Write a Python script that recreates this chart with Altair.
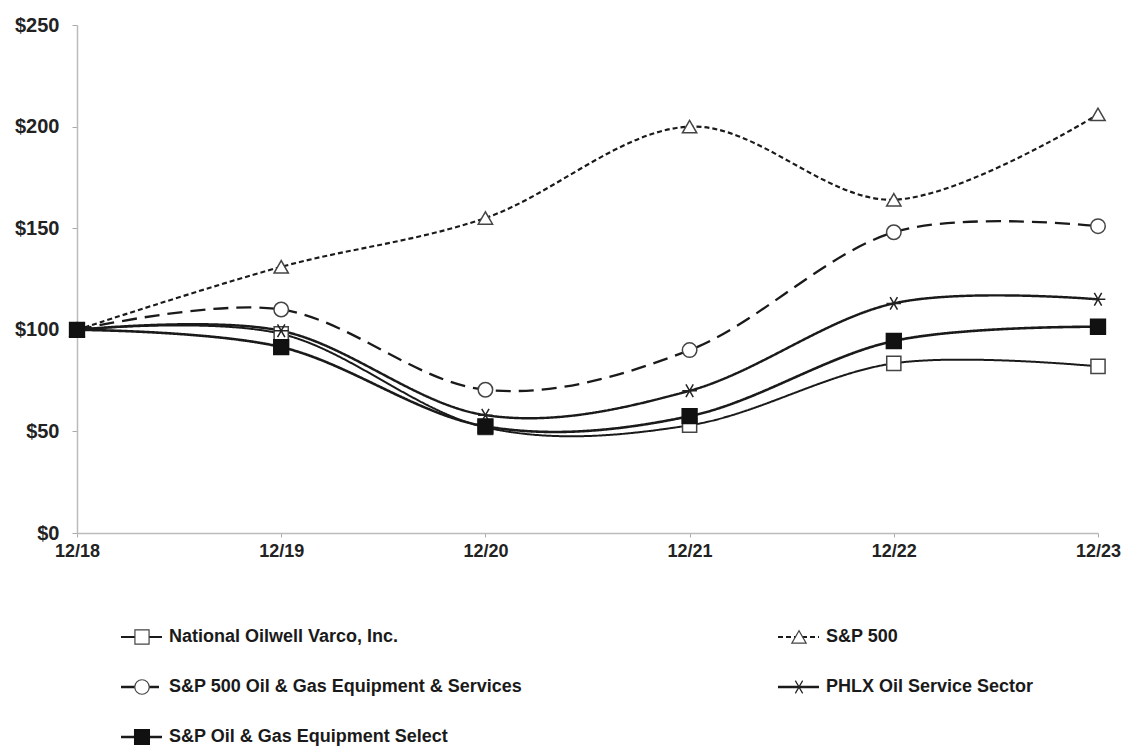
import altair as alt
import pandas as pd

periods = ["12/18", "12/19", "12/20", "12/21", "12/22", "12/23"]
series_names = [
    "National Oilwell Varco, Inc.",
    "S&P 500",
    "S&P 500 Oil & Gas Equipment & Services",
    "PHLX Oil Service Sector",
    "S&P Oil & Gas Equipment Select",
]
nov = [100, 98, 52, 53, 83.5, 82]
sp500 = [100, 131, 155, 200, 164, 206]
sp_oges = [100, 110, 70.5, 90, 148, 151]
phlx = [100, 99.5, 58, 70, 113, 115]
sp_select = [100, 91.5, 52.5, 57.5, 94.5, 101.5]
values = [nov, sp500, sp_oges, phlx, sp_select]

# legend layout: column and row of each series
legend_col = [0, 1, 0, 1, 0]
legend_row = [0, 0, 1, 1, 2]

asterisk = "M-1,0L1,0M-0.5,-0.866L0.5,0.866M-0.5,0.866L0.5,-0.866"
dashes = [[1, 0], [5, 3], [15, 8], [1, 0], [1, 0]]
widths = [2.0, 2.6, 2.6, 2.2, 2.4]
shapes = ["square", "triangle-up", "circle", asterisk, "square"]
fills = ["white", "white", "white", "white", "#111111"]
strokes = ["#444444", "#444444", "#444444", "#222222", "#111111"]
sizes = [200, 220, 260, 230, 250]
legend_sizes = [55, 55, 60, 60, 60]

rows = []
for name, vals in zip(series_names, values):
    for p, v in zip(periods, vals):
        rows.append({"period": p, "value": v, "series": name})
df = pd.DataFrame(rows)

leg = pd.DataFrame({"series": series_names, "col": legend_col, "row": legend_row})

FONT = "Liberation Sans"
dash_scale = alt.Scale(domain=series_names, range=dashes)
legend_dash_scale = alt.Scale(domain=series_names, range=[[1, 0], [4, 3], [13, 5], [1, 0], [1, 0]])
width_scale = alt.Scale(domain=series_names, range=widths)
shape_scale = alt.Scale(domain=series_names, range=shapes)
fill_scale = alt.Scale(domain=series_names, range=fills)
stroke_scale = alt.Scale(domain=series_names, range=strokes)
size_scale = alt.Scale(domain=series_names, range=sizes)
legend_size_scale = alt.Scale(domain=series_names, range=legend_sizes)
y_scale = alt.Scale(domain=[0, 250], nice=False)
x_scale = alt.Scale(type="point", padding=0)

x_enc = alt.X(
    "period:O",
    sort=periods,
    scale=x_scale,
    axis=alt.Axis(
        title=None, labelAngle=0, labelFont=FONT, labelFontSize=18,
        labelFontWeight="bold", labelColor="#222222", labelPadding=5,
        domainColor="#bbbbbb", tickColor="#aaaaaa", tickSize=4, domainWidth=1.5,
    ),
)
y_enc = alt.Y(
    "value:Q",
    scale=y_scale,
    axis=alt.Axis(
        title=None, values=[0, 50, 100, 150, 200, 250], labelExpr="'$' + datum.value",
        labelFont=FONT, labelFontSize=20, labelFontWeight="bold", labelColor="#222222",
        grid=False, domainColor="#bbbbbb", tickColor="#aaaaaa", tickSize=5,
        labelPadding=13, domainWidth=1.5,
    ),
)

lines = alt.Chart(df).mark_line(interpolate="cardinal", color="#1a1a1a").encode(
    x=x_enc,
    y=y_enc,
    detail="series:N",
    strokeDash=alt.StrokeDash("series:N", scale=dash_scale, legend=None),
    strokeWidth=alt.StrokeWidth("series:N", scale=width_scale, legend=None),
)
points = alt.Chart(df).mark_point(filled=False, strokeWidth=1.5, opacity=1).encode(
    x=alt.X("period:O", sort=periods, scale=x_scale),
    y=alt.Y("value:Q", scale=y_scale),
    shape=alt.Shape("series:N", scale=shape_scale, legend=None),
    fill=alt.Fill("series:N", scale=fill_scale, legend=None),
    stroke=alt.Stroke("series:N", scale=stroke_scale, legend=None),
    size=alt.Size("series:N", scale=size_scale, legend=None),
)
main = alt.layer(lines, points).properties(width=1021, height=508)

lx = alt.X("col:Q", scale=alt.Scale(domain=[0, 1], range=[65, 722]), axis=None)
ly = alt.Y("row:Q", scale=alt.Scale(domain=[-0.3, 2.1], reverse=True, nice=False), axis=None)
leg_base = alt.Chart(leg)
leg_lines = leg_base.mark_rule(color="#1a1a1a", xOffset=-21, x2Offset=20).encode(
    x=lx, x2="col:Q", y=ly,
    strokeDash=alt.StrokeDash("series:N", scale=legend_dash_scale, legend=None),
    strokeWidth=alt.StrokeWidth("series:N", scale=width_scale, legend=None),
)
leg_points = leg_base.mark_point(filled=False, strokeWidth=1.2, opacity=1).encode(
    x=lx, y=ly,
    shape=alt.Shape("series:N", scale=shape_scale, legend=None),
    fill=alt.Fill("series:N", scale=fill_scale, legend=None),
    stroke=alt.Stroke("series:N", scale=stroke_scale, legend=None),
    size=alt.Size("series:N", scale=legend_size_scale, legend=None),
)
leg_text = leg_base.mark_text(
    align="left", baseline="middle", dx=27, font=FONT, fontSize=18,
    fontWeight="bold", color="#1a1a1a",
).encode(x=lx, y=ly, text="series:N")
legend_panel = alt.layer(leg_lines, leg_points, leg_text).properties(width=1021, height=120)

chart = alt.vconcat(main, legend_panel, spacing=62).properties(
    padding={"left": 6, "top": 7, "right": 0, "bottom": 0},
    background="white",
).configure_view(stroke=None)

chart.save("out.html", embed_options={"renderer": "svg", "actions": False})
